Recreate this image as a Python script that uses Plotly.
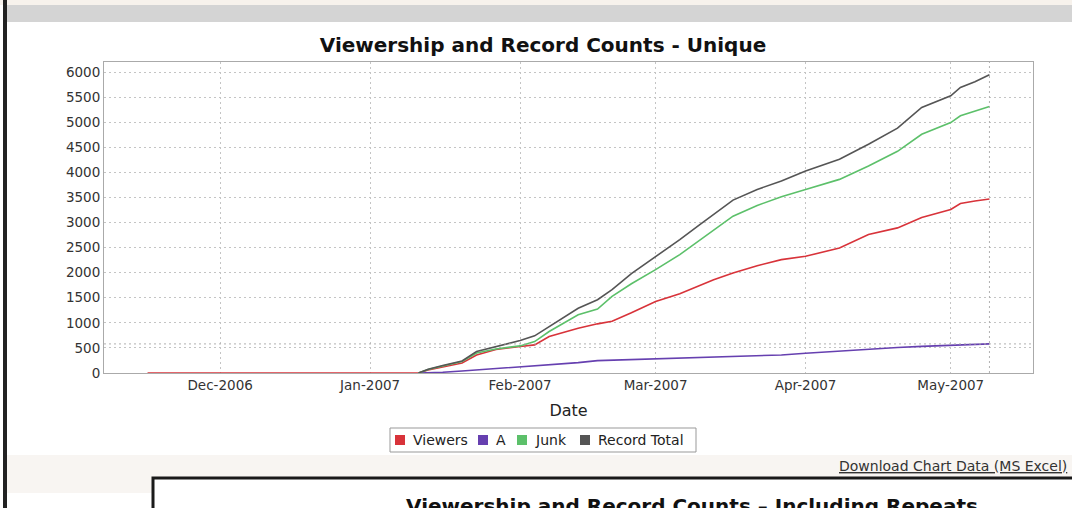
import plotly.graph_objects as go

W, H = 1072, 508
PL, PR, PT, PB = 104, 1033, 62, 373  # plot area in pixels

# zero line of the viewer count before any activity
pre_dates = ["2006-11-16", "2007-01-11"]
pre_viewers = [0, 0]

dates = [
    "2007-01-11", "2007-01-13", "2007-01-16", "2007-01-20", "2007-01-23",
    "2007-01-27", "2007-02-01", "2007-02-04", "2007-02-07", "2007-02-10",
    "2007-02-13", "2007-02-17", "2007-02-20", "2007-02-24", "2007-03-01",
    "2007-03-06", "2007-03-10", "2007-03-13", "2007-03-17", "2007-03-22",
    "2007-03-27", "2007-04-01", "2007-04-08", "2007-04-14", "2007-04-20",
    "2007-04-25", "2007-05-01", "2007-05-03", "2007-05-06", "2007-05-09",
]
viewers = [0, 60, 120, 200, 360, 470, 527, 560, 727, 810,
           893, 980, 1030, 1200, 1427, 1580, 1740, 1860, 1993, 2140,
           2260, 2327, 2493, 2760, 2893, 3100, 3260, 3380, 3430, 3470]
a_counts = [0, 5, 15, 40, 60, 90, 127, 140, 160, 185,
            207, 247, 255, 270, 293, 300, 310, 320, 330, 345,
            360, 393, 440, 470, 507, 530, 555, 565, 575, 580]
junk = [0, 70, 140, 227, 400, 480, 540, 627, 827, 990,
        1160, 1273, 1527, 1780, 2060, 2360, 2640, 2860, 3127, 3340,
        3513, 3660, 3860, 4127, 4420, 4760, 4993, 5127, 5227, 5313]
record_total = [0, 74, 150, 240, 427, 527, 647, 740, 927, 1100,
                1290, 1460, 1660, 1980, 2313, 2660, 2950, 3160, 3447, 3660,
                3827, 4027, 4260, 4560, 4880, 5293, 5527, 5693, 5807, 5947]

series_names = ["Viewers", "A", "Junk", "Record Total"]
series_colors = ["#d8333a", "#6640b0", "#5cc06a", "#555555"]
series_values = [viewers, a_counts, junk, record_total]

y_ticks = list(range(0, 6001, 500))


def px(x):
    return (x - PL) / (PR - PL)


def py(y):
    return (PB - y) / (PB - PT)


fig = go.Figure()

fig.add_trace(go.Scatter(x=pre_dates, y=pre_viewers, mode="lines",
                         line=dict(color=series_colors[0], width=1.6),
                         showlegend=False, hoverinfo="skip"))
for name, color, vals in zip(series_names, series_colors, series_values):
    fig.add_trace(go.Scatter(x=dates, y=vals, mode="lines", name=name,
                             line=dict(color=color, width=1.6), showlegend=False))

# crosshair at the last point
fig.add_vline(x=dates[-1], line=dict(color="#b0b0b0", width=1, dash="2px,3px"))
fig.add_hline(y=a_counts[-1], line=dict(color="#b0b0b0", width=1, dash="2px,3px"))

shapes = [
    # beige strip and gray bar at the top of the page
    dict(x0=px(0), x1=px(W), y0=py(0), y1=py(5), color="#f7f2ec"),
    dict(x0=px(7), x1=px(W), y0=py(5), y1=py(22), color="#d4d4d4"),
    # beige band under the chart
    dict(x0=px(7), x1=px(W), y0=py(455), y1=py(477), color="#f8f5f2"),
    dict(x0=px(7), x1=px(152), y0=py(477), y1=py(493), color="#f8f5f2"),
    # left page border
    dict(x0=px(3), x1=px(7), y0=py(0), y1=py(H), color="#222222"),
]
for s in shapes:
    fig.add_shape(type="rect", xref="paper", yref="paper", layer="below",
                  x0=s["x0"], x1=s["x1"], y0=s["y0"], y1=s["y1"],
                  fillcolor=s["color"], line=dict(width=0))
# next chart box
fig.add_shape(type="rect", xref="paper", yref="paper",
              x0=px(153), x1=px(W + 20), y0=py(478), y1=py(H + 40),
              fillcolor="white", line=dict(color="#1a1a1a", width=3))

# legend box with square keys
fig.add_shape(type="rect", xref="paper", yref="paper",
              x0=px(390), x1=px(696), y0=py(428), y1=py(452),
              fillcolor="white", line=dict(color="#999999", width=1))
legend_key_x = [395, 478, 517, 580]
legend_text_x = [411, 494, 533, 596]
for name, color, kx, tx in zip(series_names, series_colors, legend_key_x, legend_text_x):
    fig.add_shape(type="rect", xref="paper", yref="paper",
                  x0=px(kx), x1=px(kx + 10), y0=py(435), y1=py(445),
                  fillcolor=color, line=dict(width=0))
    fig.add_annotation(text=name, xref="paper", yref="paper", x=px(tx), y=py(440),
                       xanchor="left", yanchor="middle", showarrow=False,
                       font=dict(family="DejaVu Sans", size=14, color="#222222"))

fig.add_annotation(text="<u>Download Chart Data (MS Excel)</u>", xref="paper", yref="paper",
                   x=px(1069), y=py(466), xanchor="right", yanchor="middle", showarrow=False,
                   font=dict(family="DejaVu Sans", size=14, color="#333333"))
fig.add_annotation(text="<b>Viewership and Record Counts \u2013 Including Repeats</b>",
                   xref="paper", yref="paper", x=px(692), y=py(492), xanchor="center",
                   yanchor="top", showarrow=False,
                   font=dict(family="DejaVu Sans", size=20, color="#111111"))

fig.update_layout(
    width=W, height=H,
    margin=dict(l=PL, r=W - PR, t=PT, b=H - PB),
    paper_bgcolor="white", plot_bgcolor="white",
    showlegend=False,
    title=dict(text="<b>Viewership and Record Counts - Unique</b>", x=px(543), xref="paper",
               xanchor="center", y=1 - 45 / H, yanchor="middle",
               font=dict(family="DejaVu Sans", size=20, color="#111111")),
    font=dict(family="DejaVu Sans", size=13, color="#333333"),
    xaxis=dict(
        type="date", range=["2006-11-07", "2007-05-18"],
        tick0="2006-12-01", dtick="M1", tickformat="%b-%Y",
        showgrid=True, gridcolor="#c4c4c4", griddash="2px,3px", gridwidth=1,
        showline=True, linecolor="#aaaaaa", mirror=True, zeroline=False,
        ticks="", tickfont=dict(size=13.5, color="#333333"),
        title=dict(text="Date", font=dict(size=16, color="#222222"), standoff=12),
    ),
    yaxis=dict(
        range=[0, 6200], tickvals=y_ticks,
        showgrid=True, gridcolor="#c4c4c4", griddash="2px,3px", gridwidth=1,
        showline=True, linecolor="#aaaaaa", mirror=True, zeroline=False,
        ticks="", tickfont=dict(size=13.5, color="#333333"),
    ),
)

fig.write_html("out.html", config={"displayModeBar": False},
               post_script="document.body.style.margin = '0';")
